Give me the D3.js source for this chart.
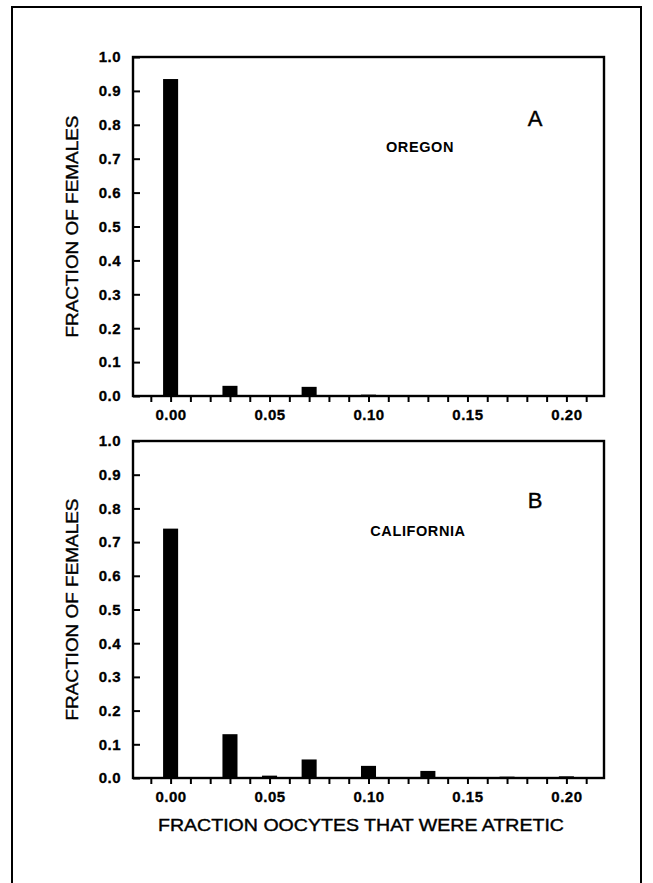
<!DOCTYPE html>
<html>
<head>
<meta charset="utf-8">
<script src="https://cdn.jsdelivr.net/npm/d3@7"></script>
<style>
    body { margin: 0; background: #fff; }
    svg text { font-family: "Liberation Sans", Arial, Helvetica, sans-serif; fill: #000; }
</style>
</head>
<body>
<div id="chart"></div>
<script>
// bins of atretic fraction (x) and fraction of females in each bin
const bins = [0.00, 0.03, 0.04, 0.05, 0.07, 0.10, 0.13, 0.15, 0.17, 0.20];
const oregon = [0.935, 0.030, 0.000, 0.000, 0.027, 0.004, 0.000, 0.002, 0.000, 0.000];
const california = [0.740, 0.130, 0.003, 0.007, 0.055, 0.036, 0.021, 0.003, 0.004, 0.005];

const xTickLabels = [0.00, 0.05, 0.10, 0.15, 0.20];
const yTickLabels = [0.0, 0.1, 0.2, 0.3, 0.4, 0.5, 0.6, 0.7, 0.8, 0.9, 1.0];

const panels = [
    { letter: 'A', name: 'OREGON', values: oregon, top: 57, bottom: 396, nameX: 420, nameY: 152, letterY: 126 },
    { letter: 'B', name: 'CALIFORNIA', values: california, top: 441, bottom: 778, nameX: 418, nameY: 536, letterY: 508 }
];

const renderChart = () => {
    const width = 653;
    const height = 883;
    const left = 133;
    const right = 604;

    const svg = d3.select('#chart').append('svg')
        .attr('width', width)
        .attr('height', height);

    // outer frame of the figure (no bottom edge visible)
    svg.append('path')
        .attr('d', `M12,${height + 5}V7H641V${height + 5}`)
        .attr('fill', 'none')
        .attr('stroke', '#000')
        .attr('stroke-width', 2);

    const x = d3.scaleLinear().domain([-0.019, 0.219]).range([left, right]);
    const barWidth = x(0.0076) - x(0);

    // minor ticks every 0.01
    const xTicks = d3.range(-1, 22).map(i => i / 100);

    panels.forEach(p => {
        const y = d3.scaleLinear().domain([0, 1]).range([p.bottom, p.top]);
        const g = svg.append('g');

        // bars
        g.selectAll('rect.bar')
            .data(bins.map((b, i) => ({ bin: b, value: p.values[i] })).filter(d => d.value > 0))
            .enter().append('rect')
            .attr('class', 'bar')
            .attr('x', d => x(d.bin) - barWidth / 2)
            .attr('y', d => y(d.value))
            .attr('width', barWidth)
            .attr('height', d => Math.max(1, y(0) - y(d.value)))
            .attr('fill', '#000');

        // x axis: small ticks every 0.01, labels on the 0.05 steps
        const xAxis = g.append('g')
            .attr('transform', `translate(0,${p.bottom})`)
            .call(d3.axisBottom(x).tickValues(xTicks).tickSize(6).tickPadding(7).tickSizeOuter(0)
                .tickFormat(d => xTickLabels.some(v => Math.abs(v - d) < 1e-9) ? d3.format('.2f')(d) : ''));

        // y axis: ticks point inward
        const yAxis = g.append('g')
            .attr('transform', `translate(${left},0)`)
            .call(d3.axisLeft(y).tickValues(yTickLabels).tickSize(-7).tickPadding(12).tickSizeOuter(0)
                .tickFormat(d3.format('.1f')));

        [xAxis, yAxis].forEach(a => {
            a.attr('font-size', null).attr('font-family', null);
            a.select('.domain').remove();
            a.selectAll('line').attr('stroke', '#000').attr('stroke-width', 2);
            a.selectAll('text')
                .style('font-size', '15px')
                .style('font-weight', 'bold')
                .attr('letter-spacing', 0.5)
                .attr('stroke', '#000')
                .attr('stroke-width', 0.3);
        });

        // box around the plot area
        g.append('rect')
            .attr('x', left)
            .attr('y', p.top)
            .attr('width', right - left)
            .attr('height', p.bottom - p.top)
            .attr('fill', 'none')
            .attr('stroke', '#000')
            .attr('stroke-width', 2.4);

        // y axis title
        g.append('text')
            .attr('transform', `translate(72,${(p.top + p.bottom) / 2}) rotate(-90)`)
            .attr('text-anchor', 'middle')
            .attr('dy', '0.35em')
            .attr('font-size', 17)
            .attr('textLength', 222)
            .attr('lengthAdjust', 'spacingAndGlyphs')
            .attr('stroke', '#000')
            .attr('stroke-width', 0.4)
            .text('FRACTION OF FEMALES');

        g.append('text')
            .attr('x', 535)
            .attr('y', p.letterY)
            .attr('text-anchor', 'middle')
            .attr('font-size', 22)
            .attr('stroke', '#000')
            .attr('stroke-width', 0.4)
            .text(p.letter);

        g.append('text')
            .attr('x', p.nameX)
            .attr('y', p.nameY)
            .attr('text-anchor', 'middle')
            .attr('font-size', 14.5)
            .attr('font-weight', 'bold')
            .attr('letter-spacing', 0.6)
            .text(p.name);
    });

    // x axis title under the bottom panel
    svg.append('text')
        .attr('x', 361)
        .attr('y', 831)
        .attr('text-anchor', 'middle')
        .attr('font-size', 17)
        .attr('textLength', 406)
        .attr('lengthAdjust', 'spacingAndGlyphs')
        .attr('stroke', '#000')
        .attr('stroke-width', 0.4)
        .text('FRACTION OOCYTES THAT WERE ATRETIC');
}

renderChart();
</script>
</body>
</html>
